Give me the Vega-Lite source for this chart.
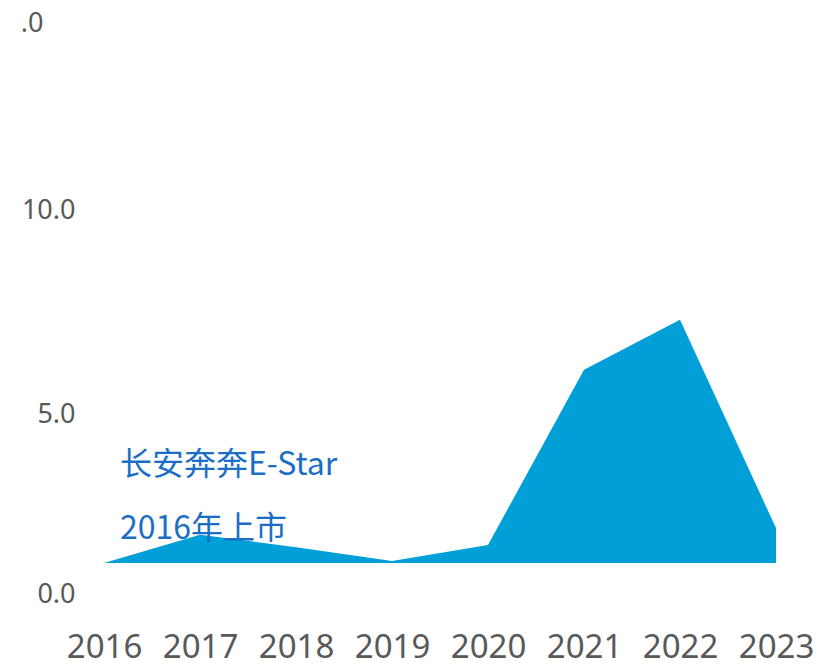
{
  "$schema": "https://vega.github.io/schema/vega-lite/v6.json",
  "width": 672,
  "height": 563,
  "autosize": "none",
  "padding": {"left": 104, "top": 0, "right": 45, "bottom": 107},
  "background": "white",
  "config": {"view": {"stroke": null}},
  "datasets": {
    "sales": [
      {"year": 2016, "value": 0.0},
      {"year": 2017, "value": 0.75},
      {"year": 2018, "value": 0.42},
      {"year": 2019, "value": 0.05},
      {"year": 2020, "value": 0.48},
      {"year": 2021, "value": 5.15},
      {"year": 2022, "value": 6.48},
      {"year": 2023, "value": 0.93}
    ],
    "notes": [
      {"year": 2016, "value": 2.62, "label": "长安奔奔E-Star"},
      {"year": 2016, "value": 0.9, "label": "2016年上市"}
    ]
  },
  "layer": [
    {
      "data": {"name": "sales"},
      "mark": {"type": "area", "color": "#019fd8", "interpolate": "linear"},
      "encoding": {
        "x": {
          "field": "year", "type": "quantitative",
          "scale": {"domain": [2016, 2023], "nice": false, "zero": false},
          "axis": {
            "title": null, "format": "d", "values": [2016, 2017, 2018, 2019, 2020, 2021, 2022, 2023],
            "domain": false, "ticks": false, "grid": false,
            "labelFont": "Noto Sans", "labelFontSize": 33, "labelColor": "#595959",
            "labelPadding": 68, "labelFlush": false, "labelOverlap": false
          }
        },
        "y": {
          "field": "value", "type": "quantitative",
          "scale": {"domain": [0, 15], "nice": false},
          "axis": {
            "title": null, "values": [0, 5, 10, 15],
            "labelExpr": "datum.value == 15 ? '.0' : format(datum.value, '.1f')",
            "domain": false, "ticks": false, "grid": false,
            "labelFont": "Noto Sans", "labelFontSize": 27, "labelColor": "#595959",
            "labelOffset": {"signal": "datum.value == 5 ? 39 : datum.value == 0 ? 31 : 23"},
            "labelPadding": {"condition": {"test": "datum.value == 15", "value": 61}, "value": 29},
            "labelFlush": false, "labelOverlap": false
          }
        }
      }
    },
    {
      "data": {"name": "notes"},
      "mark": {"type": "text", "align": "left", "baseline": "middle", "dx": 16, "font": "Noto Sans CJK SC", "fontSize": 32, "color": "#1b6ec5"},
      "encoding": {
        "x": {"field": "year", "type": "quantitative"},
        "y": {"field": "value", "type": "quantitative"},
        "text": {"field": "label"}
      }
    }
  ]
}
